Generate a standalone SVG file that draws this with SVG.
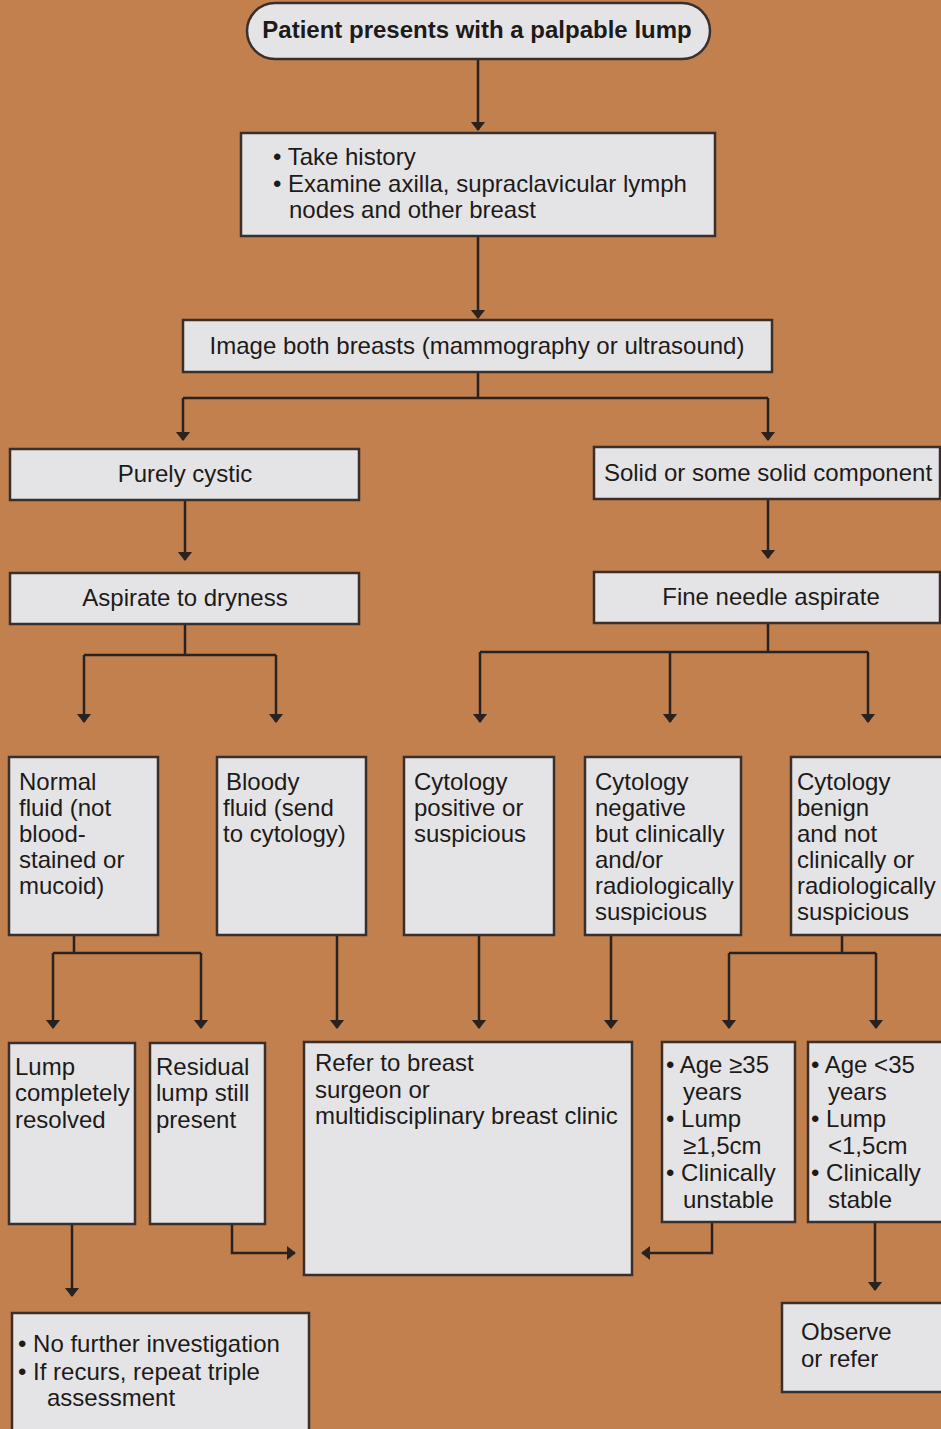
<svg xmlns="http://www.w3.org/2000/svg" width="941" height="1429" viewBox="0 0 941 1429">
<defs>
<marker id="ah" viewBox="0 0 10 16" refX="9" refY="8" markerWidth="9" markerHeight="16" markerUnits="userSpaceOnUse" orient="auto">
<path d="M0,0 L10,8 L0,16 Z" fill="#2a2220"/>
</marker>
<style>
.box{fill:#e4e4e7;stroke:#3a2f2a;stroke-width:2.5}
.t{font-family:"Liberation Sans",Arial,sans-serif;font-size:24px;fill:#1e1a18}
.b{font-weight:bold}
.c{text-anchor:middle}
.ln{fill:none;stroke:#2a2220;stroke-width:2.5}
.ar{fill:none;stroke:#2a2220;stroke-width:2.5;marker-end:url(#ah)}
</style>
</defs>
<rect x="0" y="0" width="941" height="1429" fill="#c2804e"/>

<g id="connectors">
<path class="ar" d="M478,59 V130"/>
<path class="ar" d="M478,236 V318"/>
<path class="ln" d="M478,372 V398 M183,398 H768"/>
<path class="ar" d="M183,398 V440"/>
<path class="ar" d="M768,398 V440"/>
<path class="ar" d="M185,500 V560"/>
<path class="ar" d="M768,499 V558"/>
<path class="ln" d="M185,624 V655 M84,655 H276"/>
<path class="ar" d="M84,655 V722"/>
<path class="ar" d="M276,655 V722"/>
<path class="ln" d="M768,623 V652 M480,652 H868"/>
<path class="ar" d="M480,652 V722"/>
<path class="ar" d="M670,652 V722"/>
<path class="ar" d="M868,652 V722"/>
<path class="ln" d="M74,935 V953 M53,953 H201"/>
<path class="ar" d="M53,953 V1028"/>
<path class="ar" d="M201,953 V1028"/>
<path class="ar" d="M337,935 V1028"/>
<path class="ar" d="M479,935 V1028"/>
<path class="ar" d="M611,935 V1028"/>
<path class="ln" d="M842,935 V953 M729,953 H876"/>
<path class="ar" d="M729,953 V1028"/>
<path class="ar" d="M876,953 V1028"/>
<path class="ar" d="M72,1224 V1296"/>
<path class="ar" d="M232,1224 V1253 H295"/>
<path class="ar" d="M712,1222 V1253 H642"/>
<path class="ar" d="M875,1222 V1290"/>
</g>

<g id="start">
<rect class="box" x="247" y="3" width="463" height="56" rx="28"/>
<text class="t b c" x="477" y="38">Patient presents with a palpable lump</text>
</g>

<g id="history">
<rect class="box" x="241" y="133" width="474" height="103"/>
<text class="t" x="273" y="165">• Take history</text>
<text class="t" x="273" y="192">• Examine axilla, supraclavicular lymph</text>
<text class="t" x="289" y="218">nodes and other breast</text>
</g>

<g id="image">
<rect class="box" x="183" y="320" width="589" height="52"/>
<text class="t c" x="477" y="354">Image both breasts (mammography or ultrasound)</text>
</g>

<g id="cystic">
<rect class="box" x="10" y="449" width="349" height="51"/>
<text class="t c" x="185" y="482">Purely cystic</text>
</g>

<g id="solid">
<rect class="box" x="594" y="447" width="346" height="52"/>
<text class="t c" x="768" y="481">Solid or some solid component</text>
</g>

<g id="aspirate">
<rect class="box" x="10" y="573" width="349" height="51"/>
<text class="t c" x="185" y="606">Aspirate to dryness</text>
</g>

<g id="fna">
<rect class="box" x="594" y="572" width="346" height="51"/>
<text class="t c" x="771" y="605">Fine needle aspirate</text>
</g>

<g id="normal">
<rect class="box" x="9" y="757" width="149" height="178"/>
<text class="t" x="19" y="790">Normal</text>
<text class="t" x="19" y="816">fluid (not</text>
<text class="t" x="19" y="842">blood-</text>
<text class="t" x="19" y="868">stained or</text>
<text class="t" x="19" y="894">mucoid)</text>
</g>

<g id="bloody">
<rect class="box" x="217" y="757" width="149" height="178"/>
<text class="t" x="226" y="790">Bloody</text>
<text class="t" x="223" y="816">fluid (send</text>
<text class="t" x="223" y="842">to cytology)</text>
</g>

<g id="cytpos">
<rect class="box" x="404" y="757" width="150" height="178"/>
<text class="t" x="414" y="790">Cytology</text>
<text class="t" x="414" y="816">positive or</text>
<text class="t" x="414" y="842">suspicious</text>
</g>

<g id="cytneg">
<rect class="box" x="585" y="757" width="156" height="178"/>
<text class="t" x="595" y="790">Cytology</text>
<text class="t" x="595" y="816">negative</text>
<text class="t" x="595" y="842">but clinically</text>
<text class="t" x="595" y="868">and/or</text>
<text class="t" x="595" y="894">radiologically</text>
<text class="t" x="595" y="920">suspicious</text>
</g>

<g id="cytben">
<rect class="box" x="791" y="757" width="152" height="178"/>
<text class="t" x="797" y="790">Cytology</text>
<text class="t" x="797" y="816">benign</text>
<text class="t" x="797" y="842">and not</text>
<text class="t" x="797" y="868">clinically or</text>
<text class="t" x="797" y="894">radiologically</text>
<text class="t" x="797" y="920">suspicious</text>
</g>

<g id="resolved">
<rect class="box" x="9" y="1043" width="126" height="181"/>
<text class="t" x="15" y="1075">Lump</text>
<text class="t" x="15" y="1101">completely</text>
<text class="t" x="15" y="1128">resolved</text>
</g>

<g id="residual">
<rect class="box" x="150" y="1043" width="115" height="181"/>
<text class="t" x="156" y="1075">Residual</text>
<text class="t" x="156" y="1101">lump still</text>
<text class="t" x="156" y="1128">present</text>
</g>

<g id="refer">
<rect class="box" x="304" y="1042" width="328" height="233"/>
<text class="t" x="315" y="1071">Refer to breast</text>
<text class="t" x="315" y="1098">surgeon or</text>
<text class="t" x="315" y="1124">multidisciplinary breast clinic</text>
</g>

<g id="age-high">
<rect class="box" x="662" y="1042" width="133" height="180"/>
<text class="t" x="666" y="1073">• Age ≥35</text>
<text class="t" x="683" y="1100">years</text>
<text class="t" x="666" y="1127">• Lump</text>
<text class="t" x="683" y="1154">≥1,5cm</text>
<text class="t" x="666" y="1181">• Clinically</text>
<text class="t" x="683" y="1208">unstable</text>
</g>

<g id="age-low">
<rect class="box" x="808" y="1042" width="135" height="180"/>
<text class="t" x="811" y="1073">• Age &lt;35</text>
<text class="t" x="828" y="1100">years</text>
<text class="t" x="811" y="1127">• Lump</text>
<text class="t" x="828" y="1154">&lt;1,5cm</text>
<text class="t" x="811" y="1181">• Clinically</text>
<text class="t" x="828" y="1208">stable</text>
</g>

<g id="nofurther">
<rect class="box" x="12" y="1313" width="297" height="130"/>
<text class="t" x="18" y="1352">• No further investigation</text>
<text class="t" x="18" y="1380">• If recurs, repeat triple</text>
<text class="t" x="47" y="1406">assessment</text>
</g>

<g id="observe">
<rect class="box" x="782" y="1303" width="161" height="89"/>
<text class="t" x="801" y="1340">Observe</text>
<text class="t" x="801" y="1367">or refer</text>
</g>
</svg>
